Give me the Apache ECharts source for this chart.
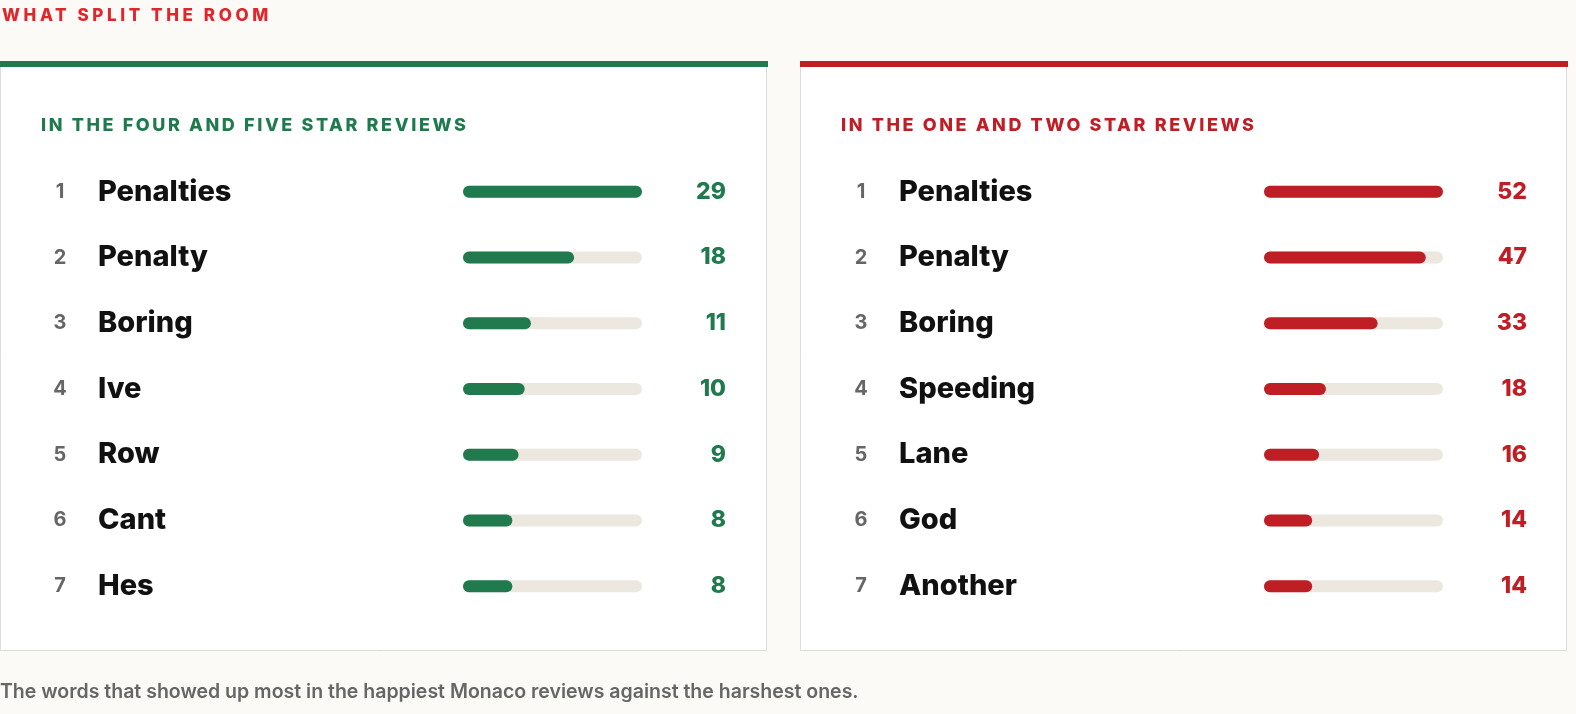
<!DOCTYPE html>
<html><head><meta charset="utf-8">
<script src="https://cdn.jsdelivr.net/npm/echarts@6/dist/echarts.min.js"></script>
<style>
html,body{margin:0;padding:0;background:#fbfaf6;}
#wrap{position:relative;width:1576px;height:714px;}
#c{width:1576px;height:714px;}
.t{position:absolute;font-family:Inter,'Noto Sans',sans-serif;font-weight:800;white-space:nowrap;z-index:2;}
</style>
</head><body><div id="wrap"><div id="c"></div>
<div class="t" style="left:2px;top:5px;font-size:17px;letter-spacing:3.6px;color:#e0262b;">WHAT SPLIT THE ROOM</div>
<div class="t" style="left:41px;top:114px;font-size:18px;letter-spacing:2.6px;color:#217a4e;">IN THE FOUR AND FIVE STAR REVIEWS</div>
<div class="t" style="left:841px;top:114px;font-size:18px;letter-spacing:2.6px;color:#be1e24;">IN THE ONE AND TWO STAR REVIEWS</div>
</div>
<script>
const posWords = ["Penalties","Penalty","Boring","Ive","Row","Cant","Hes"];
const posValues = [29,18,11,10,9,8,8];
const negWords = ["Penalties","Penalty","Boring","Speeding","Lane","God","Another"];
const negValues = [52,47,33,18,16,14,14];
const ranks = ["1","2","3","4","5","6","7"];
const GREEN = "#217a4e", RED = "#be1e24", FONT = "Inter, 'Noto Sans', sans-serif";

const chart = echarts.init(document.getElementById('c'));
function grid(left){ return {left:left, width:179, top:159, height:460}; }
function yAxes(idx, words, values, color){
  return [{
    type:'category', gridIndex:idx, inverse:true, data:words.map((w,i)=>ranks[i]+'|'+w),
    axisLine:{show:false}, axisTick:{show:false},
    axisLabel:{align:'left', margin:416, formatter:v=>{const p=v.split('|');return '{r|'+p[0]+'}{w|'+p[1]+'}';},
      rich:{r:{width:26,align:'right',fontSize:20,fontWeight:700,color:'#666',fontFamily:FONT},
            w:{padding:[0,0,0,25],fontSize:29,fontWeight:800,color:'#111',fontFamily:FONT}}}
  },{
    type:'category', gridIndex:idx, inverse:true, position:'right', data:values.map(String),
    axisLine:{show:false}, axisTick:{show:false},
    axisLabel:{align:'right', margin:84, fontSize:23, fontWeight:800, color:color, fontFamily:FONT}
  }];
}
function panel(x, color){
  return [
    {type:'rect', shape:{x:x+0.5,y:62.5,width:766,height:588}, style:{fill:'#fff',stroke:'#dcdcdc',lineWidth:1}},
    {type:'rect', shape:{x:x,y:61,width:768,height:6}, style:{fill:color}}
  ];
}
chart.setOption({
  backgroundColor:'#fbfaf6',
  animation:false,
  graphic:[
    ...panel(0,GREEN), ...panel(800,RED),
    {type:'text', left:0, top:682, style:{text:'The words that showed up most in the happiest Monaco reviews against the harshest ones.', fill:'#666', font:'600 19.5px '+FONT}}
  ],
  grid:[grid(463), grid(1264)],
  xAxis:[{type:'value',gridIndex:0,min:0,max:29,show:false},{type:'value',gridIndex:1,min:0,max:52,show:false}],
  yAxis:[...yAxes(0,posWords,posValues,GREEN), ...yAxes(1,negWords,negValues,RED)],
  series:[
    {type:'bar', xAxisIndex:0, yAxisIndex:0, data:posValues, barWidth:12, itemStyle:{color:GREEN,borderRadius:6},
     showBackground:true, backgroundStyle:{color:'#ece8df',borderRadius:6}},
    {type:'bar', xAxisIndex:1, yAxisIndex:2, data:negValues, barWidth:12, itemStyle:{color:RED,borderRadius:6},
     showBackground:true, backgroundStyle:{color:'#ece8df',borderRadius:6}}
  ]
});
</script></body></html>
